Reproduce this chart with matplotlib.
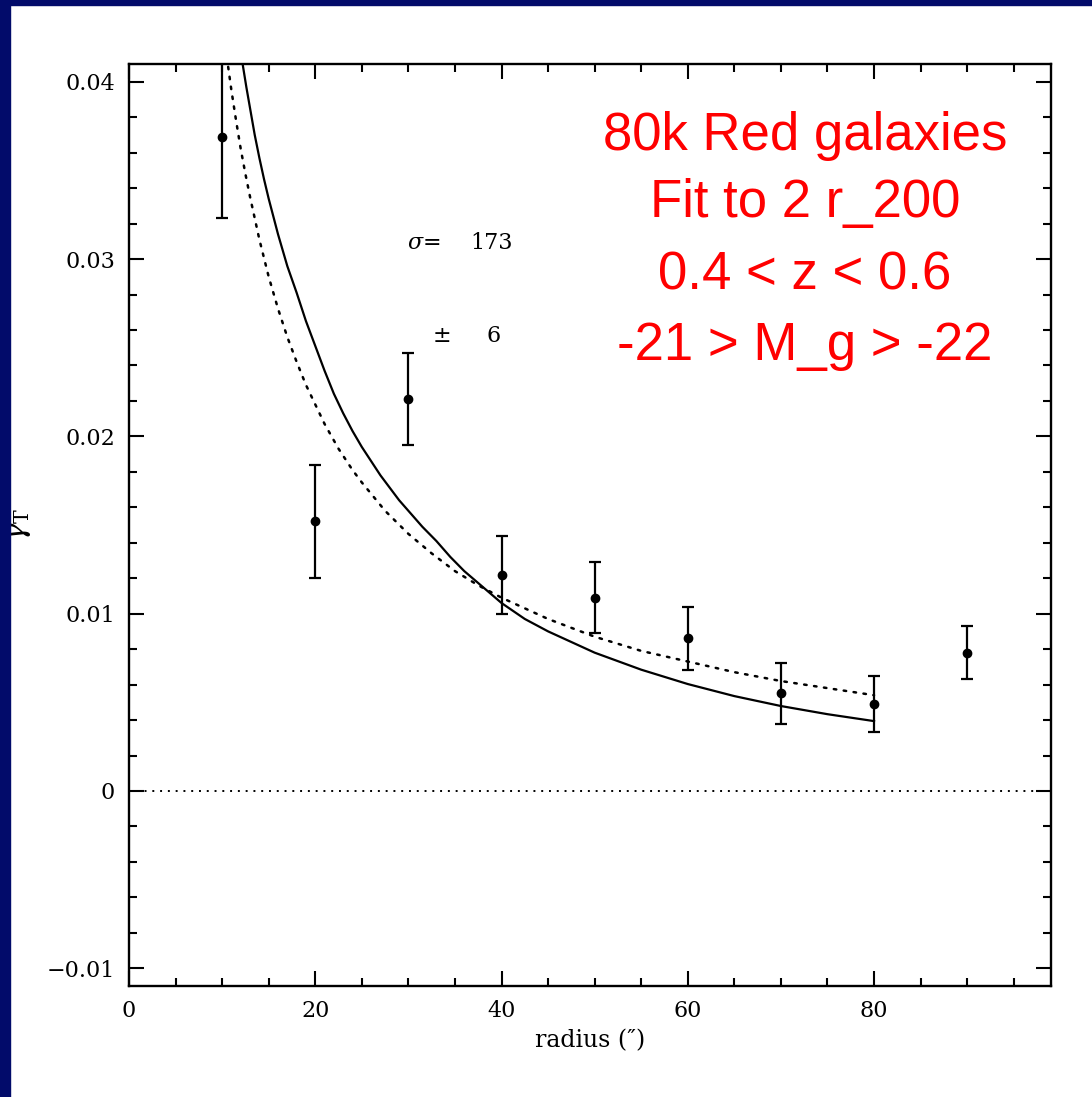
import matplotlib
matplotlib.use("Agg")
from matplotlib import pyplot as plt
from matplotlib.patches import Rectangle
from matplotlib.ticker import MultipleLocator, FixedLocator

# Measured tangential shear, radius in arcsec
radius = [10, 20, 30, 40, 50, 60, 70, 80, 90]
gamma_t = [0.0369, 0.0152, 0.0221, 0.0122, 0.0109, 0.0086, 0.0055, 0.0049, 0.0078]
gamma_err = [0.0046, 0.0032, 0.0026, 0.0022, 0.0020, 0.0018, 0.0017, 0.0016, 0.0015]

# Solid model curve
solid_r = [12.2, 12.6, 13, 13.5, 14, 14.5, 15, 15.5, 16, 17, 18, 19, 20, 21, 22,
           23, 24, 25, 26, 27, 28, 29, 30, 31.5, 33, 34.5, 36, 38, 40,
           42.5, 45, 47.5, 50, 55, 60, 65, 70, 75, 80]
solid_g = [0.0410, 0.0397, 0.0385, 0.0370, 0.0357, 0.0345, 0.0334, 0.0324,
           0.0314, 0.0296, 0.0281, 0.0265, 0.0251, 0.0237, 0.0224, 0.0213,
           0.0203, 0.0194, 0.0186, 0.0178, 0.0171, 0.0164, 0.0158, 0.0149,
           0.0141, 0.0132, 0.0124, 0.0115, 0.0106, 0.0097, 0.0090, 0.0084,
           0.0078, 0.00684, 0.00603, 0.00535, 0.00479, 0.00433, 0.00394]

# Dotted model curve
dotted_r = [10.5, 11, 11.5, 12, 12.5, 13, 14, 15, 16, 17, 18, 19, 20, 21, 22.5,
            24, 25, 27.5, 30, 32.5, 35, 37.5, 40, 45, 50, 55, 60, 65, 70, 75, 80]
dotted_g = [0.0414, 0.0395, 0.0378, 0.0362, 0.0348, 0.0335, 0.0311, 0.0290,
            0.0272, 0.0256, 0.0242, 0.0229, 0.0218, 0.0207, 0.0193, 0.0181,
            0.0174, 0.0158, 0.0145, 0.0134, 0.0124, 0.0116, 0.0109, 0.0097,
            0.0087, 0.0079, 0.0073, 0.0067, 0.0062, 0.0058, 0.0054]

y_ticks = [-0.01, 0, 0.01, 0.02, 0.03, 0.04]
y_tick_labels = ["\u22120.01", "0", "0.01", "0.02", "0.03", "0.04"]
x_ticks = [0, 20, 40, 60, 80]

info_lines = ["80k Red galaxies", "Fit to 2 r_200", "0.4 < z < 0.6", "-21 > M_g > -22"]

plt.rcParams["font.family"] = ["DejaVu Serif"]
plt.rcParams["mathtext.fontset"] = "dejavuserif"

fig = plt.figure(figsize=(10.92, 10.97), dpi=100)
fig.patch.set_facecolor("white")

# Navy slide border on the left and top
navy = "#020B6A"
fig.patches.append(Rectangle((0, 0), 10 / 1092, 1, transform=fig.transFigure,
                             color=navy, zorder=0))
fig.patches.append(Rectangle((0, 1 - 5 / 1097), 1, 5 / 1097, transform=fig.transFigure,
                             color=navy, zorder=0))

ax = fig.add_axes([129 / 1092, 111 / 1097, 922 / 1092, 922 / 1097])

ax.errorbar(radius, gamma_t, yerr=gamma_err, fmt="o", color="black",
            markersize=6, elinewidth=1.6, capsize=4, capthick=1.6, zorder=3)
ax.plot(solid_r, solid_g, color="black", linewidth=1.6, solid_joinstyle="round")
ax.plot(dotted_r, dotted_g, color="black", linewidth=1.8,
        linestyle=(0, (1, 3)), dash_capstyle="round")
ax.axhline(0, color="black", linewidth=1.4, linestyle=(0, (1, 3)))

ax.set_xlim(0, 99)
ax.set_ylim(-0.011, 0.041)

ax.xaxis.set_major_locator(FixedLocator(x_ticks))
ax.xaxis.set_minor_locator(MultipleLocator(5))
ax.yaxis.set_major_locator(FixedLocator(y_ticks))
ax.set_yticklabels(y_tick_labels)
ax.yaxis.set_minor_locator(MultipleLocator(0.002))

ax.tick_params(which="both", direction="in", top=True, right=True, width=1.5,
               labelsize=16, color="black")
ax.tick_params(which="major", length=11, pad=10)
ax.tick_params(which="minor", length=5.5)
for sp in ax.spines.values():
    sp.set_linewidth(1.7)

ax.set_xlabel("radius (\u2033)", fontsize=17, labelpad=5)
ax.set_ylabel(r"$\gamma_{\rm T}$", fontsize=21, labelpad=10)

ax.text(29.8, 0.03058, r"$\sigma$=", fontsize=16, ha="left", va="baseline")
ax.text(41.2, 0.03058, "173", fontsize=16, ha="right", va="baseline")
ax.text(32.6, 0.02533, "\u00b1", fontsize=16, ha="left", va="baseline")
ax.text(39.9, 0.02533, "6", fontsize=16, ha="right", va="baseline")

line_y = [0.9067, 0.834, 0.755, 0.679]
for txt, yy in zip(info_lines, line_y):
    ax.text(0.733, yy, txt, transform=ax.transAxes, color="red", fontsize=38,
            ha="center", va="baseline", family=["Liberation Sans", "DejaVu Sans"])

fig.savefig("out.png", dpi=100)
